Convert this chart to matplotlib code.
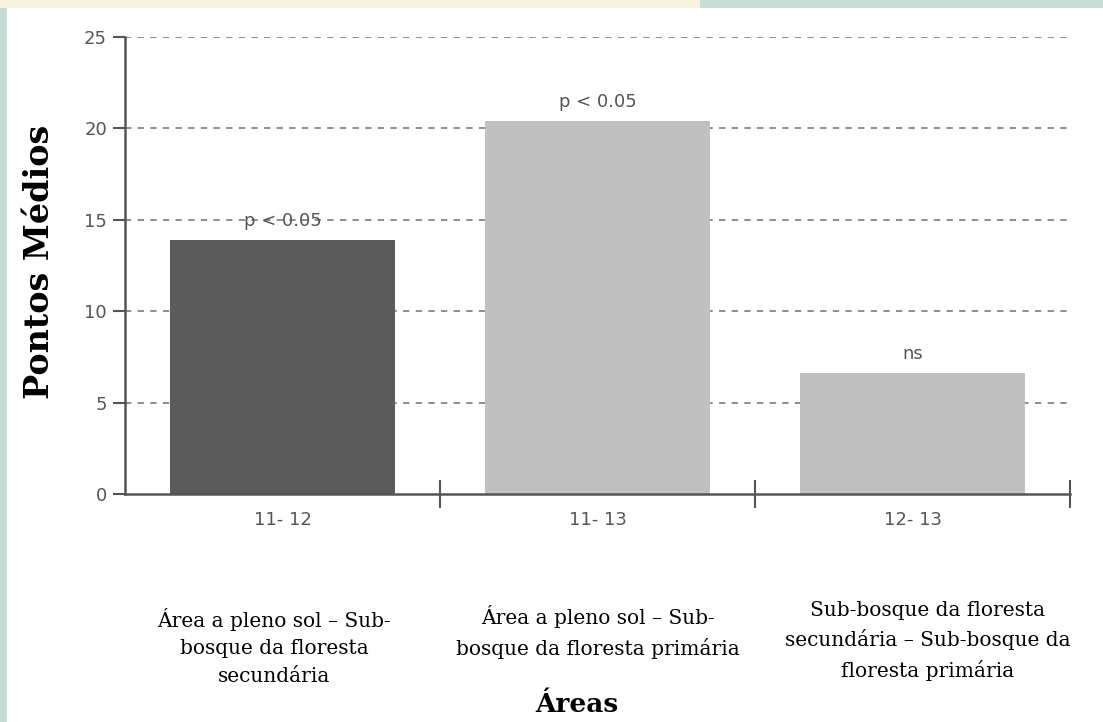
import matplotlib
matplotlib.use("Agg")
import matplotlib.pyplot as plt
import matplotlib.patches as ptc
import numpy as np

# mean ranks for each pair of areas
pairs = ["11- 12", "11- 13", "12- 13"]
medias = [13.9, 20.4, 6.6]
signif = ["p < 0.05", "p < 0.05", "ns"]
cores = ["#5b5b5b", "#c0c0c0", "#c0c0c0"]
descricoes = [
    "Área a pleno sol – Sub-\nbosque da floresta\nsecundária",
    "Área a pleno sol – Sub-\nbosque da floresta primária",
    "Sub-bosque da floresta\nsecundária – Sub-bosque da\nfloresta primária",
]
yticks = [0, 5, 10, 15, 20, 25]

fig = plt.figure(figsize=(11.03, 7.22), dpi=100)
fig.patch.set_facecolor("white")

# pale border strips round the slide
fig.patches.append(ptc.Rectangle((0, 0), 7 / 1103, 1, transform=fig.transFigure,
                                 facecolor="#c6ddd6", edgecolor="none", zorder=0))
fig.patches.append(ptc.Rectangle((0, 1 - 8 / 722), 700 / 1103, 8 / 722, transform=fig.transFigure,
                                 facecolor="#f7f5df", edgecolor="none", zorder=0))
fig.patches.append(ptc.Rectangle((700 / 1103, 1 - 8 / 722), 403 / 1103, 8 / 722,
                                 transform=fig.transFigure,
                                 facecolor="#c8dfd7", edgecolor="none", zorder=0))

ax = fig.add_axes([125 / 1103, 228 / 722, 945 / 1103, 457 / 722])
ax.set_facecolor("none")

x = np.arange(len(pairs))
ax.bar(x, medias, width=0.714, color=cores, zorder=2)

for xi, v, s in zip(x, medias, signif):
    ax.text(xi, v + 0.55, s, ha="center", va="bottom", fontsize=13,
            color="#555555", family="DejaVu Sans", zorder=3)

ax.set_xlim(-0.5, 2.5)
ax.set_ylim(0, 25)

# dashed reference lines
for t in yticks[1:]:
    ax.axhline(t, color="#858585", linestyle=(0, (3.5, 3.5)), linewidth=1.3, zorder=1)

ax.set_yticks(yticks)
ax.set_yticklabels([str(t) for t in yticks], fontsize=13, color="#555555",
                   family="DejaVu Sans")
ax.tick_params(axis="y", direction="out", length=9, width=1.5, color="#555555", pad=4)

# group separators on x axis, labels in the middle of each group
ax.set_xticks([0.5, 1.5, 2.5])
ax.set_xticklabels([])
ax.tick_params(axis="x", which="major", direction="inout", length=20, width=1.5,
               color="#555555")
ax.set_xticks(x, minor=True)
ax.set_xticklabels(pairs, minor=True, fontsize=13, color="#555555",
                   family="DejaVu Sans")
ax.tick_params(axis="x", which="minor", length=0, pad=12)

for sp in ["top", "right"]:
    ax.spines[sp].set_visible(False)
for sp in ["left", "bottom"]:
    ax.spines[sp].set_color("#555555")
    ax.spines[sp].set_linewidth(1.8)
ax.spines["bottom"].set_zorder(4)

fig.text(40 / 1103, 1 - 262 / 722, "Pontos Médios", rotation=90, ha="center", va="center",
         fontsize=24, fontweight="bold", family="DejaVu Serif")

pos_x = [274, 598, 928]
pos_y = [647, 632, 641]
for px, py, d in zip(pos_x, pos_y, descricoes):
    fig.text(px / 1103, 1 - py / 722, d, ha="center", va="center", fontsize=14.5,
             family="DejaVu Serif", linespacing=1.55)

fig.text(577 / 1103, 1 - 705 / 722, "Áreas", ha="center", va="center",
         fontsize=19, fontweight="bold", family="DejaVu Serif")

fig.savefig("out.png", dpi=100)
